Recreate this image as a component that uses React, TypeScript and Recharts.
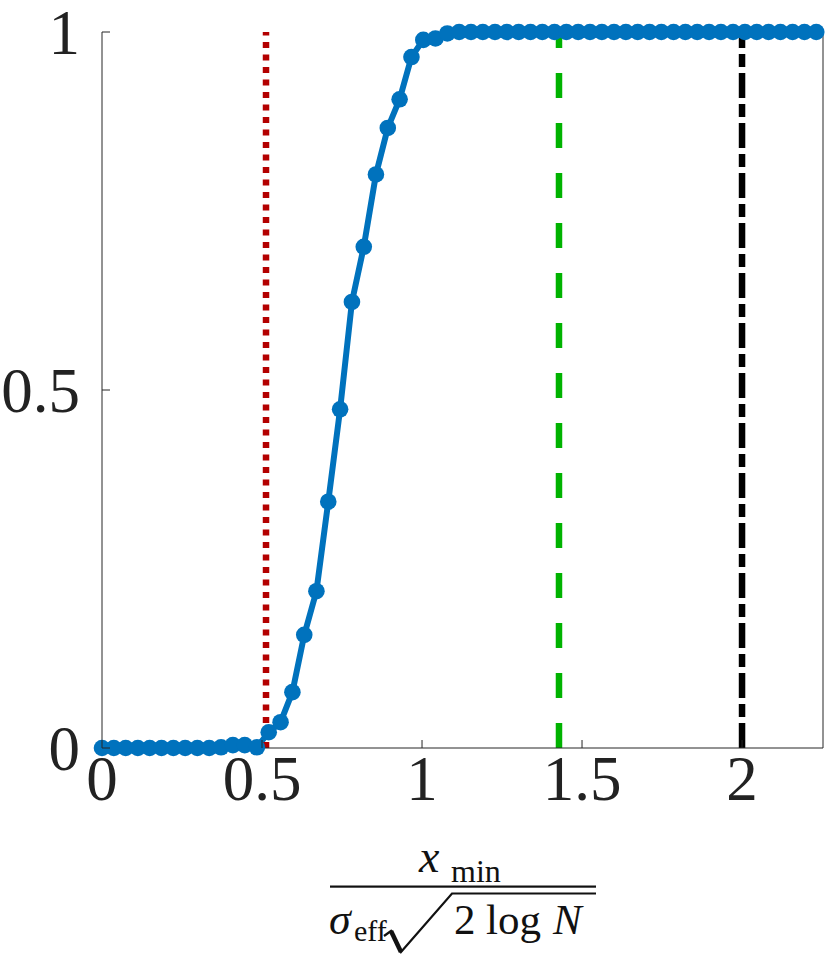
import React from 'react';
import { LineChart, Line, XAxis, YAxis, ReferenceLine } from 'recharts';

// sample positions (normalised x_min) and fraction
const xValues = [
  0, 0.037, 0.074, 0.112, 0.149, 0.186, 0.223, 0.26, 0.298, 0.335,
  0.372, 0.409, 0.446, 0.484, 0.521, 0.558, 0.595, 0.632, 0.67, 0.707,
  0.744, 0.781, 0.818, 0.856, 0.893, 0.93, 0.967, 1.004, 1.042, 1.079,
  1.116, 1.153, 1.19, 1.228, 1.265, 1.302, 1.339, 1.376, 1.414, 1.451,
  1.488, 1.525, 1.562, 1.6, 1.637, 1.674, 1.711, 1.748, 1.786, 1.823,
  1.86, 1.897, 1.934, 1.972, 2.009, 2.046, 2.083, 2.12, 2.158, 2.195,
  2.232,
];
const yValues = [
  0, 0, 0, 0, 0, 0, 0, 0, 0, 0,
  0.001, 0.004, 0.004, 0.001, 0.022, 0.036, 0.078, 0.158, 0.219, 0.344,
  0.473, 0.623, 0.7, 0.801, 0.866, 0.906, 0.965, 0.989, 0.991, 0.998,
  1, 1, 1, 1, 1, 1, 1, 1, 1, 1,
  1, 1, 1, 1, 1, 1, 1, 1, 1, 1,
  1, 1, 1, 1, 1, 1, 1, 1, 1, 1,
  1,
];
const xTicks = [0, 0.5, 1, 1.5, 2];
const yTicks = [0, 0.5, 1];
const xMax = 2.253;
// vertical reference lines
const dottedAt = 0.5125;
const dashedAt = 1.428;
const dashDotAt = 2;

const data = xValues.map((x, i) => ({ x, y: yValues[i] }));

// plot box in page pixels
const LEFT = 102;
const RIGHT = 823;
const TOP = 32;
const BOTTOM = 748;

const FONT = '"Liberation Serif", "DejaVu Serif", serif';
const AXIS = '#262626';
const BLUE = '#0072BD';

const BottomTick = ({ x, payload }: any) => (
  <g>
    <line x1={x} x2={x} y1={BOTTOM} y2={BOTTOM - 8} stroke={AXIS} strokeWidth={1} />
    <text x={x} y={800} textAnchor="middle" fontSize={63} fontFamily={FONT} fill="#222">
      {payload.value}
    </text>
  </g>
);

const TopTick = ({ x }: any) => (
  <line x1={x} x2={x} y1={TOP} y2={TOP + 8} stroke={AXIS} strokeWidth={1} />
);

const LeftTick = ({ y, payload }: any) => (
  <g>
    <line x1={LEFT} x2={LEFT + 8} y1={y} y2={y} stroke={AXIS} strokeWidth={1} />
    <text x={80} y={y + 22} textAnchor="end" fontSize={63} fontFamily={FONT} fill="#222">
      {payload.value}
    </text>
  </g>
);

const RightTick = ({ y }: any) => (
  <line x1={RIGHT} x2={RIGHT - 8} y1={y} y2={y} stroke={AXIS} strokeWidth={1} />
);

const XLabel = () => (
  <svg
    width={830}
    height={966}
    style={{ position: 'absolute', left: 0, top: 0, pointerEvents: 'none' }}
  >
    <g fontFamily={FONT} fill="#111">
      <text x={419} y={872} fontSize={46} fontStyle="italic">x</text>
      <text x={451} y={882} fontSize={32}>min</text>
      <rect x={330} y={885.5} width={266} height={2.2} />
      <text x={329} y={934} fontSize={44} fontStyle="italic">σ</text>
      <text x={354} y={941} fontSize={30}>eff</text>
      <polyline
        points="384,936 391,931 401,952 452,893.5 596,893.5"
        fill="none"
        stroke="#111"
        strokeWidth={2.2}
        strokeLinejoin="miter"
      />
      <line x1={391} y1={931} x2={401} y2={952} stroke="#111" strokeWidth={4.5} />
      <text x={454} y={934} fontSize={43}>2</text>
      <text x={486} y={934} fontSize={43}>log</text>
      <text x={553} y={934} fontSize={43} fontStyle="italic">N</text>
    </g>
  </svg>
);

export default function App() {
  return (
    <div style={{ position: 'absolute', left: 0, top: 0, width: 830, height: 966, background: '#fff' }}>
      <LineChart
        width={830}
        height={966}
        data={data}
        margin={{ top: TOP, right: 0, bottom: 0, left: 0 }}
      >
        <XAxis
          xAxisId="bottom"
          dataKey="x"
          type="number"
          domain={[0, xMax]}
          ticks={xTicks}
          height={966 - BOTTOM}
          axisLine={{ stroke: AXIS, strokeWidth: 1 }}
          tickLine={false}
          tick={<BottomTick />}
          interval={0}
        />
        <XAxis
          xAxisId="top"
          dataKey="x"
          type="number"
          orientation="top"
          domain={[0, xMax]}
          ticks={xTicks}
          height={0}
          axisLine={{ stroke: AXIS, strokeWidth: 1 }}
          tickLine={false}
          tick={<TopTick />}
          interval={0}
        />
        <YAxis
          yAxisId="left"
          type="number"
          domain={[0, 1]}
          ticks={yTicks}
          width={LEFT}
          axisLine={{ stroke: AXIS, strokeWidth: 1 }}
          tickLine={false}
          tick={<LeftTick />}
          interval={0}
        />
        <YAxis
          yAxisId="right"
          orientation="right"
          type="number"
          domain={[0, 1]}
          ticks={yTicks}
          width={830 - RIGHT}
          axisLine={{ stroke: AXIS, strokeWidth: 1 }}
          tickLine={false}
          tick={<RightTick />}
          interval={0}
        />
        <Line
          xAxisId="bottom"
          yAxisId="left"
          type="linear"
          dataKey="y"
          stroke={BLUE}
          strokeWidth={6}
          dot={{ r: 8.3, fill: BLUE, stroke: BLUE, strokeWidth: 0 }}
          isAnimationActive={false}
        />
        <ReferenceLine
          xAxisId="bottom"
          yAxisId="left"
          x={dottedAt}
          stroke="#B30000"
          strokeWidth={6.5}
          strokeDasharray="6 6.5"
        />
        <ReferenceLine
          xAxisId="bottom"
          yAxisId="left"
          x={dashedAt}
          stroke="#00B300"
          strokeWidth={6.5}
          strokeDasharray="25 25"
        />
        <ReferenceLine
          xAxisId="bottom"
          yAxisId="left"
          x={dashDotAt}
          stroke="#000"
          strokeWidth={6.5}
          strokeDasharray="25 6 13 6"
        />
      </LineChart>
      <XLabel />
    </div>
  );
}
